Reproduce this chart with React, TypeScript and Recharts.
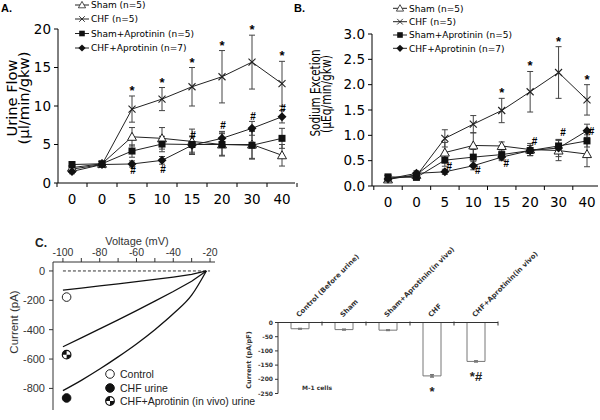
import React from 'react';
import { ComposedChart, Line, XAxis, YAxis, ErrorBar, ReferenceLine, Scatter, BarChart, Bar, LabelList } from 'recharts';

// ---------- Panels A & B: time course ----------
const timeLabels = ['0', '0', '5', '10', '15', '20', '30', '40'];
const seriesNames = ['Sham (n=5)', 'CHF (n=5)', 'Sham+Aprotinin (n=5)', 'CHF+Aprotinin (n=7)'];

// A. Urine flow (µl/min/gkw)
const flowSham = [2.0, 2.5, 6.0, 5.8, 5.4, 5.0, 5.0, 3.6];
const flowShamErr = [0.4, 0.3, 1.2, 1.4, 1.6, 1.5, 1.8, 1.4];
const flowChf = [1.8, 2.4, 9.6, 10.9, 12.5, 13.8, 15.7, 12.9];
const flowChfErr = [0.3, 0.3, 1.7, 1.5, 2.5, 3.4, 3.5, 2.9];
const flowShamApro = [2.4, 2.5, 4.15, 5.06, 5.0, 5.0, 4.9, 5.8];
const flowShamAproErr = [0.3, 0.3, 0.8, 1.0, 1.0, 1.4, 1.8, 1.3];
const flowChfApro = [1.5, 2.4, 2.47, 2.94, 4.9, 5.8, 7.1, 8.6];
const flowChfAproErr = [0.3, 0.3, 0.4, 0.5, 1.2, 0.9, 0.9, 0.8];
const flowStars = ['', '', '*', '*', '*', '*', '*', '*'];
const flowHash = [null, null, 1.6, 1.7, 6.2, 7.5, 8.6, 9.7];
const flowTicks = [0, 5, 10, 15, 20];

// B. Sodium excretion (µEq/min/gkw)
const natSham = [0.13, 0.22, 0.66, 0.80, 0.79, 0.72, 0.70, 0.63];
const natShamErr = [0.05, 0.05, 0.2, 0.25, 0.08, 0.12, 0.2, 0.25];
const natChf = [0.15, 0.2, 0.94, 1.22, 1.49, 1.86, 2.24, 1.7];
const natChfErr = [0.05, 0.05, 0.17, 0.17, 0.24, 0.4, 0.51, 0.3];
const natShamApro = [0.18, 0.17, 0.51, 0.57, 0.62, 0.7, 0.79, 0.89];
const natShamAproErr = [0.04, 0.04, 0.12, 0.15, 0.1, 0.1, 0.12, 0.12];
const natChfApro = [0.14, 0.25, 0.28, 0.4, 0.57, 0.7, 0.75, 1.09];
const natChfAproErr = [0.05, 0.05, 0.05, 0.08, 0.07, 0.1, 0.17, 0.13];
const natStars = ['', '', '', '', '*', '*', '*', '*'];
const natHash = [null, null, 0.39, 0.3, 0.45, 0.87, 1.05, 1.07];
const natTicks = [0, 0.5, 1, 1.5, 2, 2.5, 3];

// ---------- Panel C left: I-V curves ----------
const ivVoltage = [-100, -90, -80, -70, -60, -50, -40, -30, -22];
const ivControl = [-131, -117, -102, -88, -73, -58, -42, -24, 0];
const ivChf = [-815, -745, -668, -585, -497, -400, -292, -165, 0];
const ivChfApro = [-516, -456, -395, -333, -270, -205, -140, -70, 0];
const ivVoltTicks = [-100, -90, -80, -70, -60, -50, -40, -30, -20];
const ivCurTicks = [0, -200, -400, -600, -800];
const markVoltage = -98;
const markControl = -178;
const markChf = -865;
const markChfApro = -570;
const ivLegend = ['Control', 'CHF urine', 'CHF+Aprotinin (in vivo) urine'];

// ---------- Panel C right: M-1 cells current density ----------
const barCats = ['Control (Before urine)', 'Sham', 'Sham+Aprotinin(in vivo)', 'CHF', 'CHF+Aprotinin(in vivo)'];
const barCurrent = [-22, -25, -27, -188, -137];
const barErr = [1, 1.5, 1, 4, 2];
const barNotes = ['', '', '', '*', '*#'];
const barTicks = [0, -50, -100, -150, -200, -250];

type Kind = 'tri' | 'x' | 'sq' | 'dia';
const series: { key: string; err: string; kind: Kind }[] = [
  { key: 'sham', err: 'shamE', kind: 'tri' },
  { key: 'chf', err: 'chfE', kind: 'x' },
  { key: 'sA', err: 'sAE', kind: 'sq' },
  { key: 'cA', err: 'cAE', kind: 'dia' },
];

function buildRows(sham: number[], shamE: number[], chf: number[], chfE: number[], sA: number[], sAE: number[], cA: number[], cAE: number[], stars: string[], hashes: (number | null)[]) {
  return timeLabels.map((lab, i) => ({
    key: 't' + i,
    lab,
    sham: sham[i], shamE: shamE[i],
    chf: chf[i], chfE: chfE[i],
    sA: sA[i], sAE: sAE[i],
    cA: cA[i], cAE: cAE[i],
    star: stars[i] ? chf[i] + chfE[i] : null,
    starTxt: stars[i],
    hash: hashes[i],
  }));
}

const flowRows = buildRows(flowSham, flowShamErr, flowChf, flowChfErr, flowShamApro, flowShamAproErr, flowChfApro, flowChfAproErr, flowStars, flowHash);
const natRows = buildRows(natSham, natShamErr, natChf, natChfErr, natShamApro, natShamAproErr, natChfApro, natChfAproErr, natStars, natHash);

const ivRows = ivVoltage.map((v, i) => ({ v, ctrl: ivControl[i], chf: ivChf[i], chfA: ivChfApro[i] }));
const barRows = barCats.map((name, i) => ({ name, cur: barCurrent[i], err: barErr[i], note: barNotes[i] }));

function Marker({ kind, cx, cy }: { kind: Kind; cx: number; cy: number }) {
  if (cx == null || cy == null || isNaN(cx) || isNaN(cy)) return <g />;
  switch (kind) {
    case 'tri':
      return <polygon points={`${cx},${cy - 4.5} ${cx - 4.5},${cy + 3.5} ${cx + 4.5},${cy + 3.5}`} fill="#fff" stroke="#222" strokeWidth={1} />;
    case 'x':
      return (
        <g stroke="#222" strokeWidth={1.1}>
          <line x1={cx - 3.5} y1={cy - 3.5} x2={cx + 3.5} y2={cy + 3.5} />
          <line x1={cx - 3.5} y1={cy + 3.5} x2={cx + 3.5} y2={cy - 3.5} />
        </g>
      );
    case 'sq':
      return <rect x={cx - 3.5} y={cy - 3.5} width={7} height={7} fill="#111" />;
    default:
      return <polygon points={`${cx},${cy - 4.5} ${cx + 4.5},${cy} ${cx},${cy + 4.5} ${cx - 4.5},${cy}`} fill="#111" />;
  }
}

function CircleMark({ cx, cy, type }: { cx: number; cy: number; type: 'open' | 'filled' | 'half' }) {
  const r = 4.3;
  if (type === 'open') return <circle cx={cx} cy={cy} r={r} fill="#fff" stroke="#222" strokeWidth={1} />;
  if (type === 'filled') return <circle cx={cx} cy={cy} r={r} fill="#111" stroke="#111" />;
  return (
    <g>
      <circle cx={cx} cy={cy} r={r} fill="#fff" stroke="#111" strokeWidth={1.2} />
      <path d={`M${cx},${cy} L${cx - r},${cy} A${r},${r} 0 0 1 ${cx},${cy - r} Z`} fill="#111" />
      <path d={`M${cx},${cy} L${cx + r},${cy} A${r},${r} 0 0 1 ${cx},${cy + r} Z`} fill="#111" />
    </g>
  );
}

const TF = 'DejaVu Sans';
const NOTE_FONT = "'Liberation Sans', Arial, sans-serif";

function TimeChart(props: any) {
  const { rows, domain, ticks, fmt, margin, yWidth, xPad, xHeight, half, hashDx, width, height } = props;
  const lastKey = rows[rows.length - 1].key;
  const tickRenderer = (p: any) => {
    const row = rows.find((r: any) => r.key === p.payload.value);
    return (
      <g>
        <line x1={p.x - half} x2={p.x - half} y1={p.y} y2={p.y + 4} stroke="#000" />
        {p.payload.value === lastKey ? <line x1={p.x + half} x2={p.x + half} y1={p.y} y2={p.y + 4} stroke="#000" /> : null}
        <text x={p.x} y={p.y + 21} textAnchor="middle" fontSize={13.5} fontFamily={TF} fill="#000">{row ? row.lab : ''}</text>
      </g>
    );
  };
  const starDot = (p: any) => {
    if (p.value == null || p.cy == null || isNaN(p.cy)) return <g key={'s' + p.index} />;
    return (
      <text key={'s' + p.index} x={p.cx} y={p.cy - 1} textAnchor="middle" fontSize={13} fontWeight="bold"
        fontFamily={NOTE_FONT} fill="#000">{p.payload.starTxt}</text>
    );
  };
  const hashDot = (p: any) => {
    if (p.value == null || p.cy == null || isNaN(p.cy)) return <g key={'h' + p.index} />;
    return (
      <text key={'h' + p.index} x={p.cx + hashDx} y={p.cy + 3.5} textAnchor="middle" fontSize={10} fontWeight="bold"
        fontFamily={NOTE_FONT} fill="#000">#</text>
    );
  };
  return (
    <ComposedChart width={width} height={height} data={rows} margin={margin}>
      <XAxis dataKey="key" type="category" scale="point" allowDuplicatedCategory={false} padding={xPad} height={xHeight}
        tickLine={false} tickSize={0} tickMargin={0} tick={tickRenderer} interval={0} stroke="#000" />
      <YAxis type="number" domain={domain} ticks={ticks} tickFormatter={fmt} width={yWidth} tickSize={4} tickMargin={3}
        stroke="#000" interval={0} tick={{ fontSize: 13.5, fontFamily: TF, fill: '#000' }} />
      {series.map((s) => (
        <Line key={s.key} dataKey={s.key} type="linear" stroke="#222" strokeWidth={1} isAnimationActive={false} activeDot={false}
          legendType="none" dot={(p: any) => <Marker key={s.key + p.index} kind={s.kind} cx={p.cx} cy={p.cy} />}>
          <ErrorBar dataKey={s.err} width={3} stroke="#444" strokeWidth={1} direction="y" />
        </Line>
      ))}
      <Line dataKey="star" stroke="#000" strokeWidth={0} isAnimationActive={false} activeDot={false} legendType="none" dot={starDot} />
      <Line dataKey="hash" stroke="#000" strokeWidth={0} isAnimationActive={false} activeDot={false} legendType="none" dot={hashDot} />
    </ComposedChart>
  );
}

const BarTick = (p: any) => (
  <g>
    <text transform={`translate(${p.x - 1},${p.y - 5}) rotate(-45)`} fontSize={6.9} fontWeight="bold" fontFamily={TF} fill="#333">{p.payload.value}</text>
    <line x1={p.x + 22} x2={p.x + 22} y1={p.y - 1} y2={p.y + 3} stroke="#333" />
  </g>
);

const NoteLabel = (p: any) => {
  if (!p.value) return null;
  const bottom = Math.max(p.y, p.y + p.height);
  const cx = p.x + p.width / 2;
  return (
    <text x={cx} y={bottom + 20} textAnchor="middle" fontSize={13} fontWeight="bold" fontFamily={NOTE_FONT} fill="#222">{p.value}</text>
  );
};

function TimeLegend({ x, rows }: { x: number; rows: number[] }) {
  return (
    <g>
      {seriesNames.map((name, i) => (
        <g key={name}>
          <line x1={x} x2={x + 14} y1={rows[i]} y2={rows[i]} stroke="#222" />
          <g transform={`translate(${x + 7},${rows[i]}) scale(0.8) translate(${-(x + 7)},${-rows[i]})`}>
            <Marker kind={series[i].kind} cx={x + 7} cy={rows[i]} />
          </g>
          <text x={x + 16} y={rows[i] + 3.3} fontSize={9} fontFamily={TF} fill="#000">{name}</text>
        </g>
      ))}
    </g>
  );
}

export default function App() {
  const abs = (l: number, t: number): React.CSSProperties => ({ position: 'absolute', left: l, top: t });
  return (
    <div style={{ position: 'absolute', left: 0, top: 0, width: 600, height: 420, background: '#fff', overflow: 'hidden' }}>
      <div style={abs(0, 0)}>
        <TimeChart rows={flowRows} domain={[0, 20]} ticks={flowTicks} fmt={(v: number) => String(v)}
          margin={{ top: 29, right: 5, bottom: 0, left: 0 }} yWidth={58} xPad={{ left: 14, right: 13 }} xHeight={32}
          half={15} hashDx={1} width={300} height={215} />
      </div>
      <div style={abs(300, 0)}>
        <TimeChart rows={natRows} domain={[0, 3]} ticks={natTicks} fmt={(v: number) => v.toFixed(1)}
          margin={{ top: 34, right: 2, bottom: 0, left: 0 }} yWidth={72} xPad={{ left: 16, right: 11 }} xHeight={29}
          half={14.2} hashDx={4.5} width={300} height={215} />
      </div>
      <div style={abs(0, 230)}>
        <ComposedChart width={225} height={190} data={ivRows} margin={{ top: 0, right: 10, bottom: 10, left: 0 }}>
          <XAxis type="number" dataKey="v" orientation="top" domain={[-105.4, -17.3]} allowDataOverflow ticks={ivVoltTicks}
            tickFormatter={(v: number) => (v % 20 === 0 ? String(v) : '')} height={32} tickSize={4} tickMargin={2} interval={0}
            stroke="#333" tick={{ fontSize: 10.5, fontFamily: 'Liberation Sans', fill: '#333' }} />
          <YAxis type="number" domain={[-947, 61]} allowDataOverflow ticks={ivCurTicks} width={53} tickSize={4} tickMargin={4} interval={0}
            stroke="#333" tick={{ fontSize: 11, fontFamily: 'Liberation Sans', fill: '#333' }} />
          <ReferenceLine segment={[{ x: -100, y: 0 }, { x: -20, y: 0 }]} stroke="#333" strokeDasharray="3 2" />
          <Line dataKey="ctrl" type="linear" stroke="#111" strokeWidth={1.3} dot={false} activeDot={false} isAnimationActive={false} />
          <Line dataKey="chfA" type="linear" stroke="#111" strokeWidth={1.3} dot={false} activeDot={false} isAnimationActive={false} />
          <Line dataKey="chf" type="monotone" stroke="#111" strokeWidth={1.3} dot={false} activeDot={false} isAnimationActive={false} />
          <Scatter data={[{ v: markVoltage, i: markControl }]} dataKey="i" isAnimationActive={false}
            shape={(p: any) => <CircleMark cx={p.cx} cy={p.cy} type="open" />} />
          <Scatter data={[{ v: markVoltage, i: markChfApro }]} dataKey="i" isAnimationActive={false}
            shape={(p: any) => <CircleMark cx={p.cx} cy={p.cy} type="half" />} />
          <Scatter data={[{ v: markVoltage, i: markChf }]} dataKey="i" isAnimationActive={false}
            shape={(p: any) => <CircleMark cx={p.cx} cy={p.cy} type="filled" />} />
        </ComposedChart>
      </div>
      <div style={abs(225, 215)}>
        <BarChart width={340} height={205} data={barRows} margin={{ top: 0, right: 67, bottom: 26.5, left: 0 }}>
          <XAxis dataKey="name" orientation="top" height={107.5} tickLine={false} tickSize={0} tickMargin={0} tick={BarTick} interval={0} stroke="#333" />
          <YAxis type="number" domain={[-250, 0]} allowDataOverflow ticks={barTicks} width={53} tickSize={3} tickMargin={2} interval={0}
            stroke="#333" tick={{ fontSize: 6, fontWeight: 'bold', fontFamily: TF, fill: '#333' }} />
          <Bar dataKey="cur" fill="#fff" stroke="#777" strokeWidth={1} barSize={18} isAnimationActive={false}>
            <ErrorBar dataKey="err" width={2} stroke="#777" direction="y" />
            <LabelList dataKey="note" content={NoteLabel} />
          </Bar>
        </BarChart>
      </div>
      <svg width={600} height={420} style={{ position: 'absolute', left: 0, top: 0, pointerEvents: 'none' }}>
        <text x={1} y={12} fontSize={11} fontWeight="bold" fontFamily="Liberation Sans">A.</text>
        <text x={294} y={12} fontSize={11} fontWeight="bold" fontFamily="Liberation Sans">B.</text>
        <text x={35} y={247} fontSize={12} fontWeight="bold" fontFamily="Liberation Sans" fill="#222">C.</text>
        <TimeLegend x={75} rows={[5, 19, 33.5, 48]} />
        <TimeLegend x={393} rows={[8.3, 21.7, 35, 48.3]} />
        <text transform="translate(16.7,98) rotate(-90)" textAnchor="middle" fontSize={14.5} fontFamily={TF} textLength={77} lengthAdjust="spacingAndGlyphs">Urine Flow</text>
        <text transform="translate(29,98) rotate(-90)" textAnchor="middle" fontSize={14.5} fontFamily={TF} textLength={93} lengthAdjust="spacingAndGlyphs">(µl/min/gkw)</text>
        <text transform="translate(320,93) rotate(-90)" textAnchor="middle" fontSize={14} fontFamily={TF} textLength={87} lengthAdjust="spacingAndGlyphs">Sodium Excetion</text>
        <text transform="translate(331,94) rotate(-90)" textAnchor="middle" fontSize={14} fontFamily={TF} textLength={78} lengthAdjust="spacingAndGlyphs">(µEq/min/gkw)</text>
        <text x={137} y={245} textAnchor="middle" fontSize={11} fontFamily="Liberation Sans" fill="#333">Voltage (mV)</text>
        <text transform="translate(18,322) rotate(-90)" textAnchor="middle" fontSize={11.5} fontFamily="Liberation Sans" fill="#333">Current (pA)</text>
        {ivLegend.map((t, i) => (
          <g key={t}>
            <CircleMark cx={110} cy={[374, 388, 401][i]} type={(['open', 'filled', 'half'] as const)[i]} />
            <text x={120} y={[374, 388, 401][i] + 4} fontSize={10.5} fontFamily="Liberation Sans" fill="#222">{t}</text>
          </g>
        ))}
        <text transform="translate(251,360) rotate(-90)" textAnchor="middle" fontSize={6.5} fontWeight="bold" fontFamily={TF} fill="#333">Current (pA/pF)</text>
        <text x={302} y={390} fontSize={6} fontWeight="bold" fontFamily={TF} fill="#333">M-1 cells</text>
      </svg>
    </div>
  );
}
